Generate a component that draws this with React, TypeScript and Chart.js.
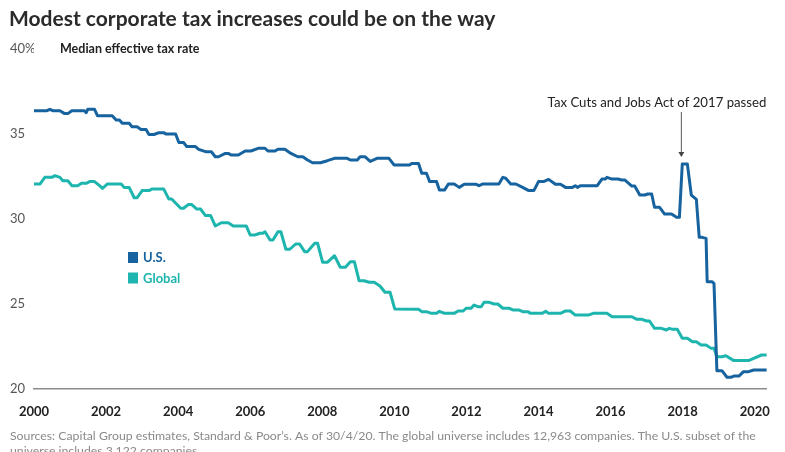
import React, { useEffect, useRef } from "react";
import { Chart, registerables } from "chart.js";

Chart.register(...registerables);

// ---------- data ----------
const usYears = [
  2000.0, 2000.36, 2000.44, 2000.52, 2000.72, 2000.85, 2000.94, 2001.05, 2001.4, 2001.45, 2001.49, 2001.68,
  2001.76, 2002.17, 2002.28, 2002.37, 2002.45, 2002.64, 2002.72, 2002.86, 2002.97, 2003.11, 2003.19, 2003.33,
  2003.47, 2003.6, 2003.66, 2003.93, 2004.02, 2004.15, 2004.24, 2004.48, 2004.57, 2004.76, 2004.92, 2005.03,
  2005.12, 2005.31, 2005.39, 2005.47, 2005.67, 2005.86, 2006.02, 2006.22, 2006.41, 2006.49, 2006.69, 2006.77,
  2006.96, 2007.13, 2007.32, 2007.46, 2007.59, 2007.73, 2007.95, 2008.14, 2008.34, 2008.69, 2008.78, 2008.97,
  2009.05, 2009.19, 2009.33, 2009.52, 2009.85, 2009.99, 2010.43, 2010.48, 2010.67, 2010.76, 2010.89, 2010.98,
  2011.17, 2011.25, 2011.39, 2011.5, 2011.66, 2011.8, 2011.94, 2012.27, 2012.35, 2012.46, 2012.9, 2013.01,
  2013.09, 2013.23, 2013.37, 2013.56, 2013.73, 2013.87, 2014.0, 2014.14, 2014.28, 2014.47, 2014.61, 2014.75,
  2014.94, 2015.02, 2015.08, 2015.16, 2015.63, 2015.76, 2015.85, 2015.9, 2016.04, 2016.2, 2016.31, 2016.4,
  2016.59, 2016.67, 2016.81, 2016.95, 2017.03, 2017.14, 2017.22, 2017.36, 2017.5, 2017.69, 2017.83, 2017.91,
  2017.99, 2018.13, 2018.24, 2018.38, 2018.46, 2018.54, 2018.65, 2018.68, 2018.82, 2018.87, 2018.95, 2019.09,
  2019.23, 2019.34, 2019.42, 2019.56, 2019.69, 2019.83, 2019.97, 2020.33,
];
const usRates = [
  36.37, 36.37, 36.45, 36.37, 36.37, 36.2, 36.2, 36.37, 36.37, 36.25, 36.45, 36.45,
  36.08, 36.08, 35.82, 35.82, 35.63, 35.63, 35.43, 35.43, 35.27, 35.27, 34.97, 34.97,
  35.08, 35.08, 35.0, 35.0, 34.5, 34.5, 34.26, 34.26, 34.1, 33.96, 33.96, 33.66,
  33.66, 33.86, 33.86, 33.76, 33.76, 34.0, 34.0, 34.16, 34.16, 34.0, 34.0, 34.1,
  34.1, 33.86, 33.66, 33.66, 33.47, 33.31, 33.31, 33.43, 33.57, 33.57, 33.47, 33.47,
  33.66, 33.66, 33.39, 33.57, 33.57, 33.18, 33.18, 33.27, 33.27, 32.69, 32.69, 32.2,
  32.2, 31.7, 31.7, 32.06, 32.06, 31.86, 32.04, 32.04, 31.96, 32.06, 32.06, 32.45,
  32.4, 32.06, 32.06, 31.86, 31.67, 31.67, 32.2, 32.2, 32.33, 32.04, 32.04, 31.86,
  31.86, 31.96, 31.86, 31.96, 31.96, 32.35, 32.35, 32.45, 32.35, 32.35, 32.29, 32.29,
  31.94, 31.94, 31.41, 31.41, 31.47, 31.47, 30.69, 30.69, 30.29, 30.29, 30.1, 30.1,
  33.24, 33.24, 31.41, 31.16, 28.92, 28.92, 28.86, 26.31, 26.31, 26.2, 21.08, 21.08,
  20.69, 20.69, 20.76, 20.76, 21.02, 21.02, 21.12, 21.12,
];

const globalYears = [
  2000.0, 2000.17, 2000.3, 2000.5, 2000.58, 2000.72, 2000.8, 2000.94, 2001.05, 2001.21, 2001.32, 2001.46,
  2001.54, 2001.68, 2001.82, 2001.9, 2002.04, 2002.31, 2002.42, 2002.5, 2002.64, 2002.78, 2002.86, 2003.0,
  2003.19, 2003.27, 2003.6, 2003.74, 2003.82, 2004.07, 2004.15, 2004.29, 2004.37, 2004.51, 2004.62, 2004.76,
  2004.9, 2005.03, 2005.2, 2005.39, 2005.53, 2005.89, 2006.0, 2006.13, 2006.27, 2006.35, 2006.41, 2006.55,
  2006.63, 2006.77, 2006.85, 2006.99, 2007.1, 2007.26, 2007.37, 2007.51, 2007.59, 2007.79, 2007.87, 2008.01,
  2008.14, 2008.34, 2008.5, 2008.64, 2008.78, 2008.89, 2009.02, 2009.16, 2009.3, 2009.44, 2009.6, 2009.74,
  2009.88, 2010.01, 2010.67, 2010.76, 2010.89, 2011.03, 2011.17, 2011.25, 2011.39, 2011.66, 2011.77, 2011.91,
  2011.99, 2012.13, 2012.21, 2012.32, 2012.41, 2012.49, 2012.63, 2012.77, 2012.87, 2013.01, 2013.18, 2013.29,
  2013.45, 2013.56, 2013.7, 2013.78, 2014.11, 2014.2, 2014.28, 2014.61, 2014.75, 2014.88, 2015.02, 2015.38,
  2015.52, 2015.9, 2016.04, 2016.59, 2016.73, 2016.87, 2017.0, 2017.08, 2017.22, 2017.41, 2017.55, 2017.63,
  2017.72, 2017.85, 2017.99, 2018.13, 2018.27, 2018.38, 2018.51, 2018.65, 2018.79, 2018.87, 2018.95, 2019.09,
  2019.2, 2019.42, 2019.83, 2019.97, 2020.19, 2020.33,
];
const globalRates = [
  32.06, 32.06, 32.45, 32.45, 32.55, 32.45, 32.25, 32.25, 31.96, 31.96, 32.1, 32.1,
  32.2, 32.2, 31.96, 31.8, 32.06, 32.06, 32.06, 31.86, 31.86, 31.25, 31.25, 31.67,
  31.67, 31.76, 31.76, 31.18, 31.18, 30.63, 30.63, 30.86, 30.86, 30.59, 30.59, 30.2,
  30.2, 29.59, 29.78, 29.78, 29.59, 29.59, 29.06, 29.06, 29.16, 29.16, 29.25, 28.76,
  28.76, 29.25, 29.25, 28.22, 28.22, 28.53, 28.53, 28.08, 28.08, 28.57, 28.57, 27.45,
  27.45, 27.84, 27.16, 27.16, 27.49, 27.49, 26.37, 26.37, 26.28, 26.28, 26.06, 25.69,
  25.69, 24.71, 24.69, 24.55, 24.55, 24.45, 24.45, 24.57, 24.45, 24.45, 24.59, 24.59,
  24.75, 24.75, 24.94, 24.84, 24.84, 25.1, 25.1, 25.0, 25.0, 24.75, 24.75, 24.65,
  24.65, 24.55, 24.55, 24.45, 24.45, 24.57, 24.45, 24.45, 24.59, 24.59, 24.35, 24.35,
  24.45, 24.45, 24.25, 24.25, 24.1, 24.1, 24.0, 24.0, 23.57, 23.57, 23.47, 23.57,
  23.51, 23.51, 22.98, 22.98, 22.78, 22.78, 22.59, 22.59, 22.39, 22.39, 21.9, 21.9,
  21.96, 21.67, 21.67, 21.8, 22.0, 22.0,
];

const seriesLabels = ["U.S.", "Global"];
const seriesColors = ["#17639f", "#1db5ad"];
const xTickYears = [2000, 2002, 2004, 2006, 2008, 2010, 2012, 2014, 2016, 2018, 2020];
const yTickValues = [20, 25, 30, 35, 40];

const TITLE = "Modest corporate tax increases could be on the way";
const SUBTITLE = "Median effective tax rate";
const ANNOTATION = "Tax Cuts and Jobs Act of 2017 passed";
const annotationYear = 2017.95;
const annotationRate = 33.24;
const FOOTER = [
  "Sources: Capital Group estimates, Standard & Poor\u2019s. As of 30/4/20. The global universe includes 12,963 companies. The U.S. subset of the",
  "universe includes 3,122 companies.",
];

const FONT = "Lato, 'Noto Sans', sans-serif";

const overlayPlugin = {
  id: "overlay",
  afterDraw(chart: any) {
    const ctx = chart.ctx as CanvasRenderingContext2D;
    const xs = chart.scales.x;
    const ys = chart.scales.y;
    ctx.save();

    // title
    ctx.fillStyle = "#2b2b2b";
    ctx.font = `700 21px ${FONT}`;
    ctx.textAlign = "left";
    ctx.textBaseline = "alphabetic";
    ctx.fillText(TITLE, 9, 26);

    // subtitle next to the top tick
    ctx.fillStyle = "#222";
    ctx.font = `700 12.5px ${FONT}`;
    ctx.textBaseline = "middle";
    ctx.fillText(SUBTITLE, 60, ys.getPixelForValue(40));

    // legend
    chart.data.datasets.forEach((ds: any, i: number) => {
      const top = 252 + i * 20.5;
      ctx.fillStyle = ds.borderColor;
      ctx.fillRect(128, top, 10, 11);
      ctx.font = `700 13px ${FONT}`;
      ctx.textBaseline = "middle";
      ctx.fillText(ds.label, 143, top + 6);
    });

    // annotation
    const ax = xs.getPixelForValue(annotationYear);
    const tip = ys.getPixelForValue(annotationRate) - 7;
    ctx.fillStyle = "#222";
    ctx.font = `13.2px ${FONT}`;
    ctx.textAlign = "center";
    ctx.textBaseline = "middle";
    ctx.fillText(ANNOTATION, 657, 103);
    ctx.strokeStyle = "#555";
    ctx.lineWidth = 1;
    ctx.beginPath();
    ctx.moveTo(ax + 0.5, 112);
    ctx.lineTo(ax + 0.5, tip - 3);
    ctx.stroke();
    ctx.fillStyle = "#444";
    ctx.beginPath();
    ctx.moveTo(ax + 0.5 - 3, tip - 5);
    ctx.lineTo(ax + 0.5 + 3, tip - 5);
    ctx.lineTo(ax + 0.5, tip);
    ctx.closePath();
    ctx.fill();

    // footer
    ctx.fillStyle = "#8a8a8a";
    ctx.font = `12.25px ${FONT}`;
    ctx.textAlign = "left";
    ctx.textBaseline = "middle";
    FOOTER.forEach((line, i) => ctx.fillText(line, 10, 436 + i * 15));

    ctx.restore();
  },
};

export default function App() {
  const canvasRef = useRef<HTMLCanvasElement | null>(null);

  useEffect(() => {
    document.body.style.margin = "0";
    document.body.style.overflow = "hidden";
    const canvas = canvasRef.current;
    if (!canvas) return;
    const chart = new Chart(canvas, {
      type: "line",
      data: {
        datasets: [
          {
            label: seriesLabels[0],
            data: usYears.map((x, i) => ({ x, y: usRates[i] })),
            borderColor: seriesColors[0],
            backgroundColor: seriesColors[0],
            borderWidth: 3,
            pointRadius: 0,
            tension: 0,
            borderJoinStyle: "round",
            borderCapStyle: "round",
          },
          {
            label: seriesLabels[1],
            data: globalYears.map((x, i) => ({ x, y: globalRates[i] })),
            borderColor: seriesColors[1],
            backgroundColor: seriesColors[1],
            borderWidth: 3,
            pointRadius: 0,
            tension: 0,
            borderJoinStyle: "round",
            borderCapStyle: "round",
          },
        ],
      },
      options: {
        animation: false,
        responsive: false,
        maintainAspectRatio: false,
        layout: { padding: { left: 10, right: 12, top: 49, bottom: 0 } },
        plugins: {
          legend: { display: false },
          tooltip: { enabled: false },
          title: { display: false },
        },
        scales: {
          x: {
            type: "linear",
            min: 2000,
            max: 2020.33,
            afterBuildTicks: (s: any) => {
              s.ticks = xTickYears.map((v) => ({ value: v }));
            },
            afterFit: (s: any) => {
              s.height = 63;
            },
            grid: { display: false, drawTicks: false },
            border: { display: true, color: "#8c8c8c", width: 1.5 },
            ticks: {
              padding: 15,
              maxRotation: 0,
              autoSkip: false,
              color: "#222",
              font: { family: FONT, size: 13, weight: "bold" },
              callback: (v: any) => String(v),
            },
          },
          y: {
            type: "linear",
            min: 20,
            max: 40,
            afterBuildTicks: (s: any) => {
              s.ticks = yTickValues.map((v) => ({ value: v }));
            },
            afterFit: (s: any) => {
              s.width = 24;
            },
            grid: { display: false, drawTicks: false },
            border: { display: false },
            ticks: {
              crossAlign: "far",
              padding: 0,
              color: "#555",
              font: { family: FONT, size: 13 },
              callback: (v: any) => (v === 40 ? "40%" : String(v)),
            },
          },
        },
      },
      plugins: [overlayPlugin],
    });
    return () => chart.destroy();
  }, []);

  return (
    <div style={{ width: 785, height: 452, position: "relative" }}>
      <canvas ref={canvasRef} width={785} height={452} style={{ display: "block", width: 785, height: 452 }} />
    </div>
  );
}
